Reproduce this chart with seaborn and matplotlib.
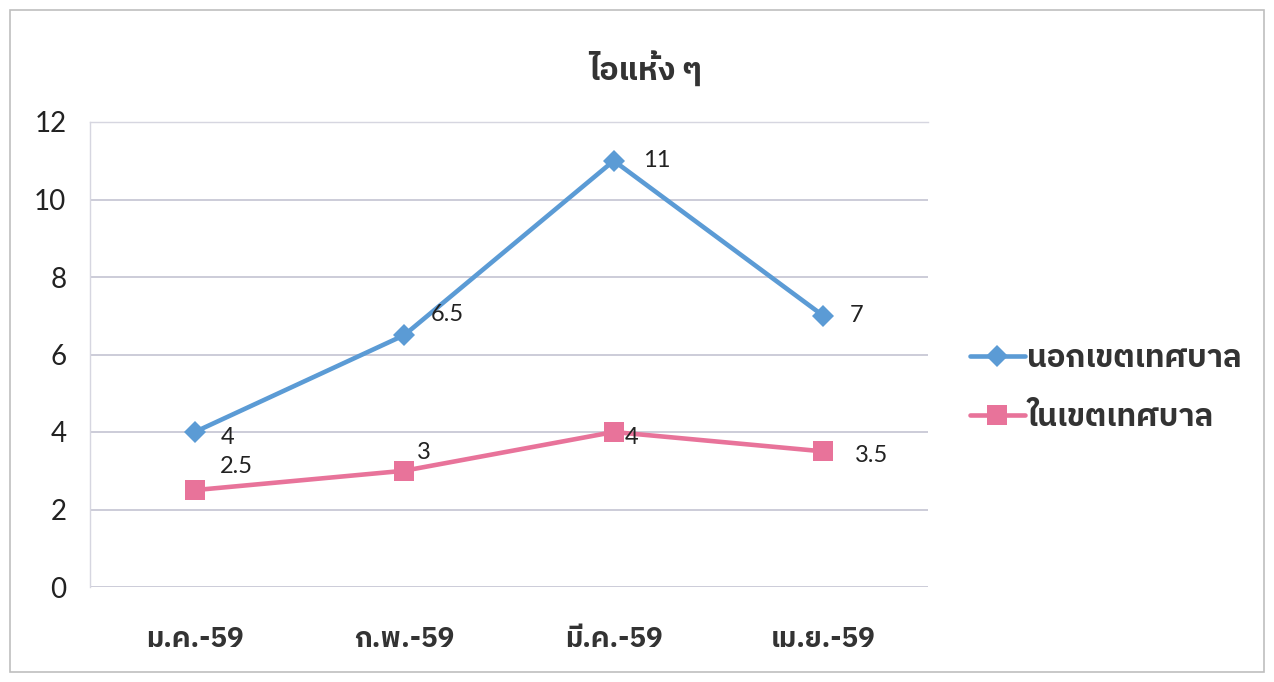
import numpy as np
import pandas as pd
import matplotlib
matplotlib.use("Agg")
import matplotlib.pyplot as plt
import seaborn as sns
from matplotlib import font_manager
from matplotlib.ft2font import FT2Font
from matplotlib.patches import Rectangle

## data
months = ["ม.ค.-59", "ก.พ.-59", "มี.ค.-59", "เม.ย.-59"]
outside = [4, 6.5, 11, 7]
inside = [2.5, 3, 4, 3.5]
series_names = ["นอกเขตเทศบาล", "ในเขตเทศบาล"]
title = "ไอแห้ง ๆ"
yticks = [0, 2, 4, 6, 8, 10, 12]


## find a font that has thai glyphs
def thai_fonts():
    names = []
    for f in font_manager.fontManager.ttflist:
        try:
            if 0x0E01 in FT2Font(f.fname).get_charmap():
                if f.name not in names:
                    names.append(f.name)
        except Exception:
            pass
    return names

cands = thai_fonts()
pref = [n for n in cands if "Thai" in n and "Looped" not in n and "UI" not in n]
thai = (pref or cands or ["DejaVu Sans"])[0]
tfam = [thai, "DejaVu Sans"]
nfam = ["Lato", "DejaVu Sans"]

sns.set_theme(style="white")
plt.rcParams["font.family"] = nfam

df = pd.DataFrame({"month": months * 2,
                   "value": outside + inside,
                   "series": [series_names[0]] * 4 + [series_names[1]] * 4})

fig = plt.figure(figsize=(12.74, 6.82), dpi=100)
ax = fig.add_axes([90 / 1274, 1 - 587 / 682, (928 - 90) / 1274, (587 - 122) / 682])

blue = "#5B9BD5"
pink = "#E8739A"
d1 = df[df["series"] == series_names[0]]
d2 = df[df["series"] == series_names[1]]
sns.lineplot(data=d1, x="month", y="value", ax=ax, color=blue, marker="D",
             markersize=11, linewidth=3.3, label=series_names[0], markeredgewidth=0)
sns.lineplot(data=d2, x="month", y="value", ax=ax, color=pink, marker="s",
             markersize=15, linewidth=3.3, label=series_names[1], markeredgewidth=0)

ax.set_xlim(-0.5, 3.5)
ax.set_ylim(0, 12)
ax.set_yticks(yticks)
ax.set_yticklabels([str(t) for t in yticks], fontsize=20, family=nfam, color="#222222")
ax.set_xticks(range(len(months)))
ax.set_xticklabels(months, fontsize=20, family=tfam, fontweight="bold", color="#333333")
ax.tick_params(axis="x", pad=28, length=0)
ax.tick_params(axis="y", pad=17, length=0)
ax.set_xlabel("")
ax.set_ylabel("")
ax.yaxis.grid(True, color="#C4C4D2", linewidth=1.2)
ax.set_axisbelow(True)
for s in ["right", "bottom"]:
    ax.spines[s].set_visible(False)
for s in ["left", "top"]:
    ax.spines[s].set_color("#D6D6E0")
    ax.spines[s].set_linewidth(1.0)

# value labels
offs1 = [(19, -4), (19, 15), (21, 0), (19, 0)]
offs2 = [(18, 17), (9, 13), (8, -4), (23, -3)]
for i, v in enumerate(outside):
    ax.annotate(f"{v:g}", (i, v), xytext=offs1[i], textcoords="offset points",
                ha="left", va="center", fontsize=17, family=nfam, color="#222222")
for i, v in enumerate(inside):
    ax.annotate(f"{v:g}", (i, v), xytext=offs2[i], textcoords="offset points",
                ha="left", va="center", fontsize=17, family=nfam, color="#222222")

ax.get_legend().remove()
h, l = ax.get_legend_handles_labels()
fig.legend(h, l, loc="center left", bbox_to_anchor=(942 / 1274, 1 - 388 / 682),
           frameon=False, prop={"family": tfam, "size": 22.5, "weight": "bold"},
           handlelength=1.75, handletextpad=0.08, labelspacing=0.95, labelcolor="#333333")

fig.text(646 / 1274, 1 - 68 / 682, title, ha="center", va="center",
         fontsize=23, fontweight="bold", family=tfam, color="#333333")

# outer frame
fig.patches.append(Rectangle((10 / 1274, 10 / 682), 1254 / 1274, 662 / 682,
                             transform=fig.transFigure, fill=False,
                             edgecolor="#BFBFBF", linewidth=1.2))

fig.savefig("out.png", dpi=100)
